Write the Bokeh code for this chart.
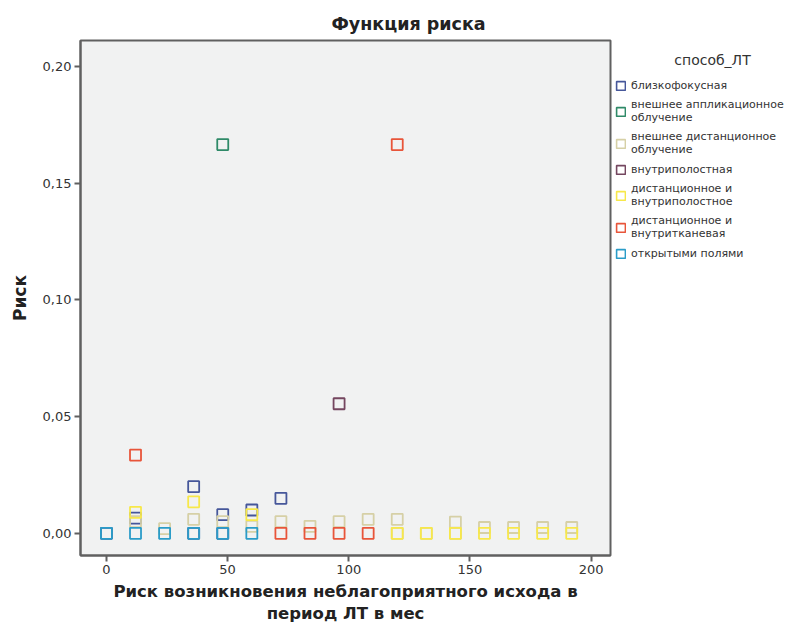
from bokeh.plotting import figure
from bokeh.layouts import row
from bokeh.models import (Range1d, FixedTicker, CustomJSTickFormatter, Legend, LegendItem, Title, Label)
from bokeh.embed import file_html
from bokeh.resources import INLINE

# ---- data ----
series_names = [
    "близкофокусная",
    "внешнее аппликационное\nоблучение",
    "внешнее дистанционное\nоблучение",
    "внутриполостная",
    "дистанционное и\nвнутриполостное",
    "дистанционное и\nвнутритканевая",
    "открытыми полями",
]
series_colors = ["#46579A", "#2F8A68", "#D6D0A6", "#74465F", "#F7E84A", "#E8553A", "#2A9CC8"]

blizko_x = [0, 12, 36, 36, 48, 48, 60, 72]
blizko_y = [0.0, 0.0065, 0.0, 0.020, 0.0, 0.008, 0.010, 0.015]

applik_x = [48]
applik_y = [0.1665]

distan_x = [12, 24, 36, 48, 60, 72, 84, 96, 108, 120, 120, 132, 144, 144, 156, 168, 180, 192]
distan_y = [0.005, 0.002, 0.006, 0.005, 0.003, 0.005, 0.003, 0.005, 0.006, 0.006, 0.0, 0.0, 0.0048, 0.0, 0.0025, 0.0025, 0.0025, 0.0025]

vnutripol_x = [96]
vnutripol_y = [0.0555]

dist_vnutripol_x = [12, 36, 60, 120, 132, 144, 156, 168, 180, 192]
dist_vnutripol_y = [0.009, 0.0135, 0.008, 0.0, 0.0, 0.0, 0.0, 0.0, 0.0, 0.0]

dist_vnutritk_x = [12, 72, 84, 96, 108, 120]
dist_vnutritk_y = [0.0335, 0.0, 0.0, 0.0, 0.0, 0.1665]

otkr_x = [0, 12, 24, 36, 48, 60]
otkr_y = [0.0, 0.0, 0.0, 0.0, 0.0, 0.0]

x_ticks = [0, 50, 100, 150, 200]
y_ticks = [0.0, 0.05, 0.10, 0.15, 0.20]

legend_title = "способ_ЛТ"

series_x = [blizko_x, applik_x, distan_x, vnutripol_x, dist_vnutripol_x, dist_vnutritk_x, otkr_x]
series_y = [blizko_y, applik_y, distan_y, vnutripol_y, dist_vnutripol_y, dist_vnutritk_y, otkr_y]

FONT = "DejaVu Sans"
H = 626
TOP = 40
BOTTOM_BORDER = 66

p = figure(width=612, height=H, output_backend="svg", toolbar_location=None,
           x_range=Range1d(-10.7, 208), y_range=Range1d(-0.0095, 0.2111),
           min_border_left=80, min_border_right=2, min_border_top=TOP,
           min_border_bottom=BOTTOM_BORDER)
p.title = Title(text="Функция риска", align="left", offset=251,
                text_font=FONT, text_font_size="17.5px", text_font_style="bold",
                text_color="#222222", standoff=13)
p.background_fill_color = "#F1F2F2"
p.border_fill_color = "white"
p.outline_line_color = "#606060"
p.outline_line_width = 2
p.xgrid.visible = False
p.ygrid.visible = False

for name, col, xs, ys in zip(series_names, series_colors, series_x, series_y):
    p.scatter(xs, ys, marker="square", size=11, fill_color=None,
              line_color=col, line_width=1.8)

for ax in (p.xaxis[0], p.yaxis[0]):
    ax.axis_line_color = "#606060"
    ax.axis_line_width = 2
    ax.major_tick_line_color = "#606060"
    ax.major_tick_line_width = 2
    ax.major_tick_out = 6
    ax.major_tick_in = 0
    ax.minor_tick_line_color = None
    ax.major_label_text_font = FONT
    ax.major_label_text_font_size = "13px"
    ax.major_label_text_color = "#333333"
    ax.axis_label_text_font = FONT
    ax.axis_label_text_font_style = "bold"
    ax.axis_label_text_color = "#222222"

p.xaxis.ticker = FixedTicker(ticks=x_ticks)
p.yaxis.ticker = FixedTicker(ticks=y_ticks)
p.yaxis.formatter = CustomJSTickFormatter(code="return tick.toFixed(2).replace('.', ',');")
p.xaxis.major_label_standoff = 3
p.yaxis.major_label_standoff = 3
p.xaxis.axis_label = "Риск возникновения неблагоприятного исхода в\nпериод ЛТ в мес"
p.xaxis.axis_label_text_font_size = "16.5px"
p.xaxis.axis_label_standoff = 5
p.yaxis.axis_label = "Риск"
p.yaxis.axis_label_text_font_size = "17px"
p.yaxis.axis_label_standoff = 10

# ---- legend panel (separate figure; data units = pixels from the canvas top) ----
LW = 180
lg = figure(width=LW, height=H, output_backend="svg", toolbar_location=None,
            x_range=Range1d(0, LW), y_range=Range1d(BOTTOM_BORDER, H - TOP),
            x_axis_location=None, y_axis_location=None,
            min_border_left=0, min_border_right=0, min_border_top=TOP,
            min_border_bottom=BOTTOM_BORDER)
lg.outline_line_color = None
lg.background_fill_color = "white"
lg.border_fill_color = "white"
lg.xgrid.visible = False
lg.ygrid.visible = False

items = []
for name, col in zip(series_names, series_colors):
    r = lg.rect([-100], [-100], width=1, height=1, fill_color=None,
                line_color=col, line_width=1.6)
    items.append(LegendItem(label=name, renderers=[r]))

legend = Legend(items=items, location=(3, 295), orientation="vertical",
                label_text_font=FONT, label_text_font_size="11px",
                label_text_color="#333333", glyph_width=11, glyph_height=11,
                label_standoff=5, spacing=6, padding=2, margin=0,
                background_fill_alpha=0, border_line_color=None,
                label_height=14)
lg.add_layout(legend, "center")
lg.add_layout(Label(x=100, y=H - 60, text=legend_title, text_align="center",
                    text_baseline="middle", text_font=FONT, text_font_size="14px",
                    text_color="#333333"))

layout = row(p, lg)
open("out.html", "w").write(file_html(layout, INLINE))
